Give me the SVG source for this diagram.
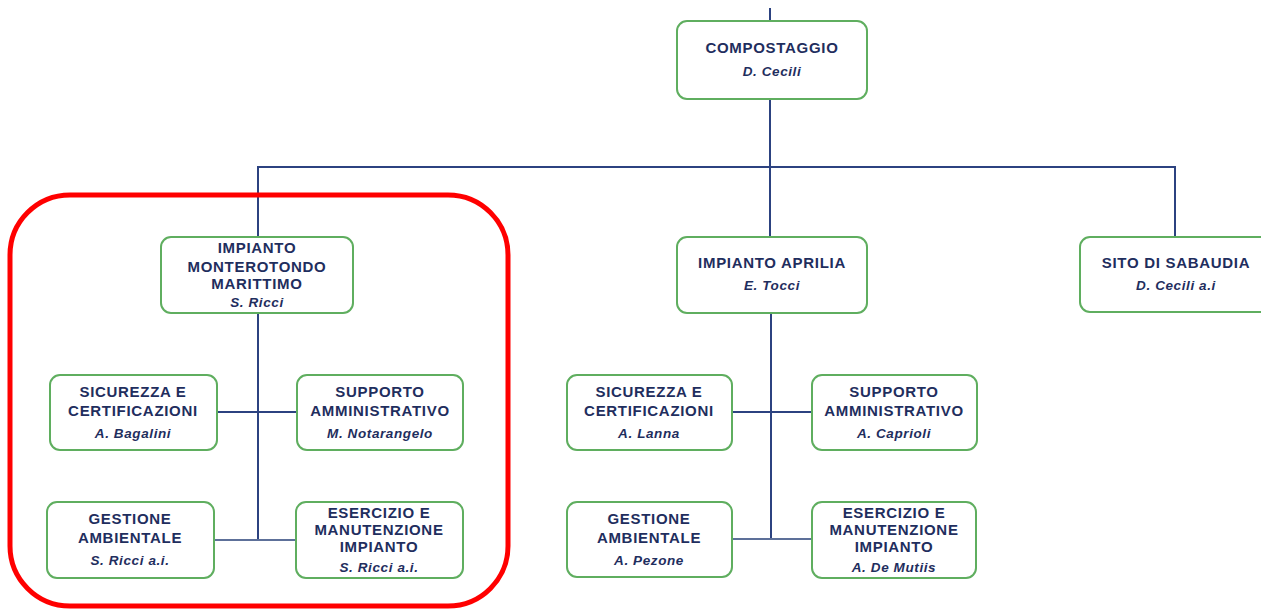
<svg xmlns="http://www.w3.org/2000/svg" width="1261" height="610" viewBox="0 0 1261 610">
<style>
.box{fill:#fff;stroke:#5fae5f;stroke-width:2}
.t{font-family:"Liberation Sans",Arial,sans-serif;font-weight:bold;font-size:15px;letter-spacing:0.7px;fill:#1f2e5e;text-anchor:middle}
.n{font-family:"Liberation Sans",Arial,sans-serif;font-weight:bold;font-style:italic;font-size:13.5px;letter-spacing:0.6px;fill:#1f2e5e;text-anchor:middle}
.c{fill:none;stroke:#2c4280;stroke-width:2}
.c2{fill:none;stroke:#5d7099;stroke-width:2}
</style>
<rect width="1261" height="610" fill="#fff"/>
<g id="connectors">
<line class="c" x1="770" y1="8" x2="770" y2="21"/>
<line class="c" x1="770" y1="99" x2="770" y2="237"/>
<polyline class="c" points="258,237 258,167 1175,167 1175,237"/>
<line class="c" x1="258" y1="313" x2="258" y2="540"/>
<line class="c" x1="217" y1="412" x2="297" y2="412"/>
<line class="c2" x1="214" y1="540" x2="296" y2="540"/>
<line class="c" x1="771" y1="313" x2="771" y2="539"/>
<line class="c" x1="732" y1="412" x2="812" y2="412"/>
<line class="c2" x1="732" y1="539" x2="812" y2="539"/>
</g>
<g id="compostaggio">
<rect class="box" x="677" y="21" width="190" height="78" rx="10"/>
<text class="t" x="772" y="53">COMPOSTAGGIO</text>
<text class="n" x="772" y="76">D. Cecili</text>
</g>
<g id="monterotondo">
<rect class="box" x="161" y="237" width="192" height="76" rx="10"/>
<text class="t" x="257" y="253">IMPIANTO</text>
<text class="t" x="257" y="272">MONTEROTONDO</text>
<text class="t" x="257" y="289">MARITTIMO</text>
<text class="n" x="257" y="307">S. Ricci</text>
</g>
<g id="aprilia">
<rect class="box" x="677" y="237" width="190" height="76" rx="10"/>
<text class="t" x="772" y="268">IMPIANTO APRILIA</text>
<text class="n" x="772" y="290">E. Tocci</text>
</g>
<g id="sabaudia">
<rect class="box" x="1080" y="237" width="192" height="75" rx="10"/>
<text class="t" x="1176" y="268">SITO DI SABAUDIA</text>
<text class="n" x="1176" y="290">D. Cecili a.i</text>
</g>
<g id="sicurezza-m">
<rect class="box" x="50" y="375" width="167" height="75" rx="10"/>
<text class="t" x="133" y="397">SICUREZZA E</text>
<text class="t" x="133" y="416">CERTIFICAZIONI</text>
<text class="n" x="133" y="438">A. Bagalini</text>
</g>
<g id="supporto-m">
<rect class="box" x="297" y="375" width="166" height="75" rx="10"/>
<text class="t" x="380" y="397">SUPPORTO</text>
<text class="t" x="380" y="416">AMMINISTRATIVO</text>
<text class="n" x="380" y="438">M. Notarangelo</text>
</g>
<g id="gestione-m">
<rect class="box" x="47" y="502" width="167" height="76" rx="10"/>
<text class="t" x="130" y="524">GESTIONE</text>
<text class="t" x="130" y="543">AMBIENTALE</text>
<text class="n" x="130" y="565">S. Ricci a.i.</text>
</g>
<g id="esercizio-m">
<rect class="box" x="296" y="502" width="167" height="76" rx="10"/>
<text class="t" x="379" y="518">ESERCIZIO E</text>
<text class="t" x="379" y="535">MANUTENZIONE</text>
<text class="t" x="379" y="552">IMPIANTO</text>
<text class="n" x="379" y="572">S. Ricci a.i.</text>
</g>
<g id="sicurezza-a">
<rect class="box" x="567" y="375" width="165" height="75" rx="10"/>
<text class="t" x="649" y="397">SICUREZZA E</text>
<text class="t" x="649" y="416">CERTIFICAZIONI</text>
<text class="n" x="649" y="438">A. Lanna</text>
</g>
<g id="supporto-a">
<rect class="box" x="812" y="375" width="165" height="75" rx="10"/>
<text class="t" x="894" y="397">SUPPORTO</text>
<text class="t" x="894" y="416">AMMINISTRATIVO</text>
<text class="n" x="894" y="438">A. Caprioli</text>
</g>
<g id="gestione-a">
<rect class="box" x="567" y="502" width="165" height="75" rx="10"/>
<text class="t" x="649" y="524">GESTIONE</text>
<text class="t" x="649" y="543">AMBIENTALE</text>
<text class="n" x="649" y="565">A. Pezone</text>
</g>
<g id="esercizio-a">
<rect class="box" x="812" y="502" width="164" height="76" rx="10"/>
<text class="t" x="894" y="518">ESERCIZIO E</text>
<text class="t" x="894" y="535">MANUTENZIONE</text>
<text class="t" x="894" y="552">IMPIANTO</text>
<text class="n" x="894" y="572">A. De Mutiis</text>
</g>
<g id="highlight">
<rect x="10" y="195" width="498" height="411" rx="60" fill="none" stroke="#ff0000" stroke-width="5"/>
</g>
</svg>
